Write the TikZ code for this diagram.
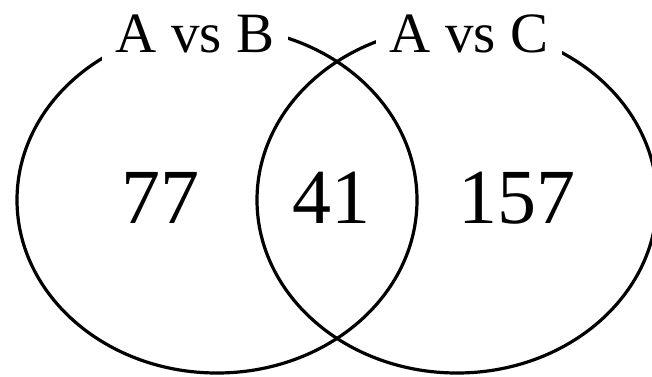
\documentclass[tikz,border=0pt]{standalone}
\usepackage{fontspec}
\setmainfont{Liberation Serif}
\usetikzlibrary{shapes.geometric}
\begin{document}
\begin{tikzpicture}[x=1pt,y=-1pt,
  setshape/.style={ellipse,draw=black,line width=3.2pt,inner sep=0pt,
    minimum width=400pt,minimum height=346pt},
  setlabel/.style={fill=white,inner xsep=14pt,inner ysep=8pt,anchor=base,
    font=\fontsize{57}{60}\selectfont},
  count/.style={anchor=base,inner sep=0pt,font=\fontsize{78}{80}\selectfont}]
\useasboundingbox (0,0) rectangle (652,376);
\clip (0,0) rectangle (652,376);
\fill[white] (0,0) rectangle (652,376);
\node[setshape] (setB) at (217,200) {};
\node[setshape] (setC) at (457,200) {};
\node[setlabel] (labB) at (195,52) {A vs B};
\node[setlabel] (labC) at (469,52) {A vs C};
\node[count] (onlyB) at (160,223) {77};
\node[count] (both) at (331,223) {41};
\node[count] (onlyC) at (517,223) {157};
\end{tikzpicture}
\end{document}
